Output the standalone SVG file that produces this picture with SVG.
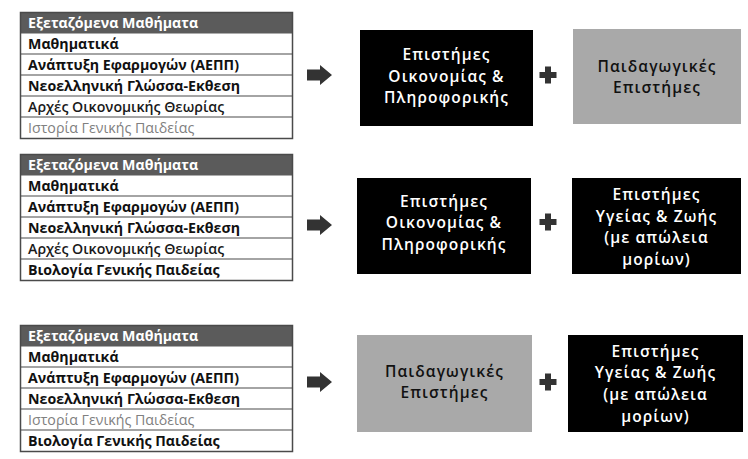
<svg xmlns="http://www.w3.org/2000/svg" width="748" height="459" viewBox="0 0 748 459">
<style>
.hdr{fill:#5b5b5b}
.tbl{fill:none;stroke:#4a4a4a;stroke-width:1.5}
.sep{stroke:#4a4a4a;stroke-width:1.2}
.th{font-family:"Open Sans","DejaVu Sans",sans-serif;font-size:14.2px;font-weight:700;fill:#ffffff}
.td{font-family:"Open Sans","DejaVu Sans",sans-serif;font-size:14.2px;font-weight:700;fill:#111111}
.tm{font-family:"Open Sans","DejaVu Sans",sans-serif;font-size:14.2px;font-weight:600;fill:#1a1a1a}
.tg{font-family:"Open Sans","DejaVu Sans",sans-serif;font-size:14.2px;font-weight:400;fill:#808080}
.bk{fill:#000000}
.gr{fill:#a9a9a9}
.bt{font-family:"Open Sans","DejaVu Sans",sans-serif;font-size:15.5px;font-weight:600;fill:#ffffff;letter-spacing:1.1px;text-anchor:middle}
.gt{font-family:"Open Sans","DejaVu Sans",sans-serif;font-size:15.5px;font-weight:600;fill:#111111;letter-spacing:1.1px;text-anchor:middle}
.ar{fill:#333333}
</style>
<defs>
<path id="arrow" d="M0,-5.5 L13,-5.5 L13,-10 L25,0 L13,10 L13,5.5 L0,5.5 Z"/>
<path id="plus" d="M-3,-8.5 L3,-8.5 L3,-3 L8.5,-3 L8.5,3 L3,3 L3,8.5 L-3,8.5 L-3,3 L-8.5,3 L-8.5,-3 L-3,-3 Z"/>
</defs>

<g id="table1">
<rect class="hdr" x="20.5" y="12.5" width="272" height="21"/>
<rect class="tbl" x="20.5" y="12.5" width="272" height="126"/>
<line class="sep" x1="20.5" y1="54" x2="292.5" y2="54"/>
<line class="sep" x1="20.5" y1="75" x2="292.5" y2="75"/>
<line class="sep" x1="20.5" y1="96" x2="292.5" y2="96"/>
<line class="sep" x1="20.5" y1="117" x2="292.5" y2="117"/>
<text class="th" x="28" y="28">Εξεταζόμενα Μαθήματα</text>
<text class="td" x="28" y="49">Μαθηματικά</text>
<text class="td" x="28" y="70">Ανάπτυξη Εφαρμογών (ΑΕΠΠ)</text>
<text class="td" x="28" y="91">Νεοελληνική Γλώσσα-Εκθεση</text>
<text class="tm" x="28" y="112">Αρχές Οικονομικής Θεωρίας</text>
<text class="tg" x="28" y="133">Ιστορία Γενικής Παιδείας</text>
</g>

<g id="table2">
<rect class="hdr" x="20.5" y="154.5" width="272" height="21"/>
<rect class="tbl" x="20.5" y="154.5" width="272" height="126"/>
<line class="sep" x1="20.5" y1="196" x2="292.5" y2="196"/>
<line class="sep" x1="20.5" y1="217" x2="292.5" y2="217"/>
<line class="sep" x1="20.5" y1="238" x2="292.5" y2="238"/>
<line class="sep" x1="20.5" y1="259" x2="292.5" y2="259"/>
<text class="th" x="28" y="170">Εξεταζόμενα Μαθήματα</text>
<text class="td" x="28" y="191">Μαθηματικά</text>
<text class="td" x="28" y="212">Ανάπτυξη Εφαρμογών (ΑΕΠΠ)</text>
<text class="td" x="28" y="233">Νεοελληνική Γλώσσα-Εκθεση</text>
<text class="tm" x="28" y="254">Αρχές Οικονομικής Θεωρίας</text>
<text class="td" x="28" y="275">Βιολογία Γενικής Παιδείας</text>
</g>

<g id="table3">
<rect class="hdr" x="20.5" y="325.5" width="272" height="21"/>
<rect class="tbl" x="20.5" y="325.5" width="272" height="126"/>
<line class="sep" x1="20.5" y1="367" x2="292.5" y2="367"/>
<line class="sep" x1="20.5" y1="388" x2="292.5" y2="388"/>
<line class="sep" x1="20.5" y1="409" x2="292.5" y2="409"/>
<line class="sep" x1="20.5" y1="430" x2="292.5" y2="430"/>
<text class="th" x="28" y="341">Εξεταζόμενα Μαθήματα</text>
<text class="td" x="28" y="362">Μαθηματικά</text>
<text class="td" x="28" y="383">Ανάπτυξη Εφαρμογών (ΑΕΠΠ)</text>
<text class="td" x="28" y="404">Νεοελληνική Γλώσσα-Εκθεση</text>
<text class="tg" x="28" y="425">Ιστορία Γενικής Παιδείας</text>
<text class="td" x="28" y="446">Βιολογία Γενικής Παιδείας</text>
</g>

<g id="connectors">
<use href="#arrow" class="ar" x="307" y="75"/>
<use href="#arrow" class="ar" x="307" y="225"/>
<use href="#arrow" class="ar" x="307" y="382"/>
<use href="#plus" class="ar" x="548" y="75"/>
<use href="#plus" class="ar" x="548" y="222"/>
<use href="#plus" class="ar" x="548" y="382"/>
</g>

<g id="box1a">
<rect class="bk" x="360" y="30" width="173" height="96"/>
<text class="bt" x="446.5" y="60">Επιστήμες</text>
<text class="bt" x="446.5" y="82">Οικονομίας &amp;</text>
<text class="bt" x="446.5" y="103">Πληροφορικής</text>
</g>
<g id="box1b">
<rect class="gr" x="573" y="29" width="168" height="95"/>
<text class="gt" x="657" y="72">Παιδαγωγικές</text>
<text class="gt" x="657" y="93">Επιστήμες</text>
</g>

<g id="box2a">
<rect class="bk" x="357" y="178" width="174" height="96"/>
<text class="bt" x="444" y="207">Επιστήμες</text>
<text class="bt" x="444" y="228">Οικονομίας &amp;</text>
<text class="bt" x="444" y="250">Πληροφορικής</text>
</g>
<g id="box2b">
<rect class="bk" x="572" y="178" width="169" height="96"/>
<text class="bt" x="656.5" y="200">Επιστήμες</text>
<text class="bt" x="656.5" y="222">Υγείας &amp; Ζωής</text>
<text class="bt" x="656.5" y="243">(με απώλεια</text>
<text class="bt" x="656.5" y="265">μορίων)</text>
</g>

<g id="box3a">
<rect class="gr" x="357" y="335" width="175" height="97"/>
<text class="gt" x="444.5" y="377">Παιδαγωγικές</text>
<text class="gt" x="444.5" y="398">Επιστήμες</text>
</g>
<g id="box3b">
<rect class="bk" x="568" y="335" width="175" height="97"/>
<text class="bt" x="655.5" y="357">Επιστήμες</text>
<text class="bt" x="655.5" y="378">Υγείας &amp; Ζωής</text>
<text class="bt" x="655.5" y="400">(με απώλεια</text>
<text class="bt" x="655.5" y="422">μορίων)</text>
</g>
</svg>
